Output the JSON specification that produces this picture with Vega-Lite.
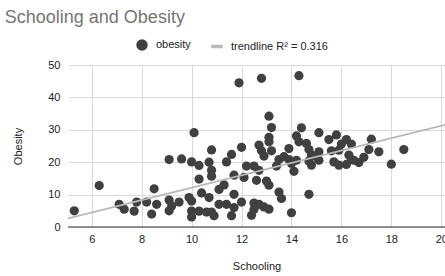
{
  "$schema": "https://vega.github.io/schema/vega-lite/v6.json",
  "autosize": {"type": "none"},
  "width": 377,
  "height": 162,
  "padding": {"left": 68, "top": 65, "right": 0, "bottom": 49},
  "background": "white",
  "title": {
    "text": "Schooling and Obesity",
    "anchor": "start",
    "dx": -8,
    "fontSize": 18,
    "font": "Liberation Sans",
    "fontWeight": "normal",
    "color": "#757575",
    "offset": 12
  },
  "config": {
    "view": {"stroke": null},
    "font": "Liberation Sans",
    "axis": {
      "labelFont": "Liberation Sans",
      "titleFont": "Liberation Sans",
      "labelFontSize": 11,
      "titleFontSize": 11,
      "labelColor": "#222222",
      "titleColor": "#222222",
      "titleFontWeight": "normal",
      "gridColor": "#d9d9d9",
      "tickSize": 0,
      "domain": false
    },
    "legend": {
      "labelFont": "Liberation Sans",
      "labelFontSize": 11,
      "labelColor": "#222222"
    }
  },
  "encoding": {
    "x": {
      "field": "x", "type": "quantitative",
      "scale": {"domain": [5.05, 20.15], "nice": false, "zero": false},
      "axis": {"title": "Schooling", "values": [6, 8, 10, 12, 14, 16, 18, 20], "labelPadding": 6, "titlePadding": 16, "labelFlush": false}
    },
    "y": {
      "field": "y", "type": "quantitative",
      "scale": {"domain": [0, 50], "nice": false},
      "axis": {"title": "Obesity", "values": [0, 10, 20, 30, 40, 50], "labelPadding": 8, "titlePadding": 24}
    }
  },
  "layer": [
    {
      "data": {
        "values": [
          {"x": 5.3, "y": 5.0}, {"x": 6.3, "y": 12.8}, {"x": 7.1, "y": 7.0}, {"x": 7.3, "y": 5.5},
          {"x": 7.7, "y": 4.9}, {"x": 7.8, "y": 7.7}, {"x": 8.2, "y": 7.7}, {"x": 8.4, "y": 4.0},
          {"x": 8.5, "y": 11.8}, {"x": 8.6, "y": 7.0}, {"x": 9.1, "y": 20.8}, {"x": 9.6, "y": 21.0},
          {"x": 9.1, "y": 8.3}, {"x": 9.2, "y": 6.5}, {"x": 9.1, "y": 5.0}, {"x": 9.5, "y": 7.7},
          {"x": 10.1, "y": 29.1}, {"x": 10.0, "y": 20.1}, {"x": 10.3, "y": 19.0}, {"x": 9.9, "y": 9.1},
          {"x": 10.0, "y": 8.0}, {"x": 10.0, "y": 4.9}, {"x": 10.0, "y": 3.1}, {"x": 10.3, "y": 14.8},
          {"x": 10.4, "y": 10.5}, {"x": 10.3, "y": 4.9}, {"x": 10.6, "y": 4.6}, {"x": 10.7, "y": 9.1},
          {"x": 10.7, "y": 20.0}, {"x": 10.8, "y": 23.8}, {"x": 10.8, "y": 17.5}, {"x": 10.8, "y": 15.7},
          {"x": 10.8, "y": 4.6}, {"x": 10.9, "y": 3.5}, {"x": 11.1, "y": 7.0}, {"x": 11.1, "y": 11.6},
          {"x": 11.3, "y": 13.0}, {"x": 11.4, "y": 20.1}, {"x": 11.4, "y": 7.0}, {"x": 11.6, "y": 22.4},
          {"x": 11.7, "y": 16.0}, {"x": 11.7, "y": 10.1}, {"x": 11.7, "y": 6.0}, {"x": 11.6, "y": 3.5},
          {"x": 11.9, "y": 44.5}, {"x": 12.0, "y": 24.6}, {"x": 12.1, "y": 15.3}, {"x": 12.0, "y": 7.7},
          {"x": 12.2, "y": 18.8}, {"x": 12.5, "y": 18.8}, {"x": 12.7, "y": 17.5}, {"x": 12.6, "y": 14.4},
          {"x": 13.0, "y": 14.2}, {"x": 13.1, "y": 12.9}, {"x": 13.5, "y": 10.8}, {"x": 13.6, "y": 8.8},
          {"x": 12.5, "y": 7.4}, {"x": 12.7, "y": 7.0}, {"x": 12.5, "y": 5.4}, {"x": 12.4, "y": 3.6},
          {"x": 12.9, "y": 6.2}, {"x": 13.1, "y": 5.5}, {"x": 12.8, "y": 45.9}, {"x": 14.3, "y": 46.7},
          {"x": 13.1, "y": 34.2}, {"x": 13.2, "y": 30.7}, {"x": 12.7, "y": 25.3}, {"x": 13.1, "y": 27.7},
          {"x": 13.1, "y": 26.3}, {"x": 12.8, "y": 23.5}, {"x": 12.9, "y": 21.9}, {"x": 13.2, "y": 23.5},
          {"x": 14.0, "y": 4.4}, {"x": 14.7, "y": 10.1}, {"x": 13.4, "y": 18.8}, {"x": 13.5, "y": 20.8},
          {"x": 13.7, "y": 21.7}, {"x": 13.9, "y": 24.2}, {"x": 13.9, "y": 20.8}, {"x": 14.0, "y": 19.6},
          {"x": 14.1, "y": 17.2}, {"x": 14.2, "y": 20.6}, {"x": 14.2, "y": 28.1}, {"x": 14.4, "y": 30.6},
          {"x": 14.3, "y": 26.3}, {"x": 14.6, "y": 25.8}, {"x": 14.7, "y": 23.9}, {"x": 14.8, "y": 22.2},
          {"x": 14.7, "y": 20.4}, {"x": 14.8, "y": 19.1}, {"x": 15.0, "y": 21.7}, {"x": 15.1, "y": 23.2},
          {"x": 15.1, "y": 20.6}, {"x": 15.1, "y": 29.1}, {"x": 15.5, "y": 27.0}, {"x": 15.6, "y": 23.5},
          {"x": 15.8, "y": 28.4}, {"x": 15.7, "y": 20.1}, {"x": 15.9, "y": 19.1}, {"x": 15.9, "y": 23.7},
          {"x": 16.0, "y": 25.6}, {"x": 16.2, "y": 27.0}, {"x": 16.3, "y": 22.2}, {"x": 16.4, "y": 20.8},
          {"x": 16.2, "y": 19.3}, {"x": 16.5, "y": 20.6}, {"x": 16.7, "y": 19.9}, {"x": 16.9, "y": 21.5},
          {"x": 16.4, "y": 25.6}, {"x": 17.1, "y": 23.9}, {"x": 17.2, "y": 27.1}, {"x": 17.5, "y": 23.2},
          {"x": 18.0, "y": 19.4}, {"x": 18.5, "y": 23.9}
        ]
      },
      "mark": {"type": "point", "filled": true, "opacity": 1, "size": 85},
      "encoding": {
        "color": {
          "datum": "obesity",
          "scale": {"domain": ["obesity", "trendline R² = 0.316"], "range": ["#404040", "#b8b8b8"]},
          "legend": {"title": null, "orient": "none", "direction": "horizontal", "legendX": 68, "legendY": -26, "columnPadding": 18, "labelOffset": 8}
        },
        "shape": {
          "datum": "obesity",
          "scale": {"domain": ["obesity", "trendline R² = 0.316"], "range": ["circle", "M-1,-0.22H1V0.22H-1Z"]},
          "legend": {"title": null, "orient": "none", "direction": "horizontal", "legendX": 68, "legendY": -26, "columnPadding": 18, "labelOffset": 8}
        }
      }
    },
    {
      "data": {"values": [{"x": 5.05, "y": 2.7}, {"x": 20.15, "y": 31.5}]},
      "mark": {"type": "line", "strokeWidth": 1.8},
      "encoding": {
        "color": {"datum": "trendline R² = 0.316"}
      }
    },
    {
      "data": {"values": [{"x": 5.05, "y": 0}, {"x": 20.15, "y": 0}]},
      "mark": {"type": "line", "color": "#333333", "strokeWidth": 1.2},
      "encoding": {}
    }
  ]
}
